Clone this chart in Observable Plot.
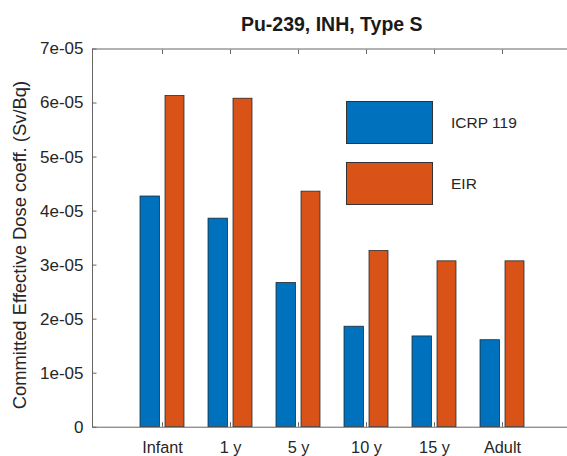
<!DOCTYPE html>
<html><head><meta charset="utf-8">
<script src="https://cdn.jsdelivr.net/npm/d3@7"></script>
<script src="https://cdn.jsdelivr.net/npm/@observablehq/plot@0.6"></script>
<style>
html,body{margin:0;padding:0;background:#fff;overflow:hidden;}
#wrap{position:relative;width:567px;height:456px;overflow:hidden;font-family:"Liberation Sans",Arial,sans-serif;color:#262626;}
#title{height:40px;box-sizing:border-box;padding-top:14.5px;margin-left:92px;width:479.5px;text-align:center;line-height:1;font-size:19.5px;font-weight:bold;color:#1a1a1a;}
#chart{width:572px;height:416px;}
#legend{position:absolute;left:346px;top:101px;}
.item{display:flex;align-items:center;height:43px;margin-bottom:18px;}
.sw{width:87px;height:43px;box-sizing:border-box;border:1px solid #333;}
.lab{margin-left:18px;font-size:15.5px;}
</style></head>
<body>
<div id="wrap">
  <div id="title"></div>
  <div id="chart"></div>
  <div id="legend"></div>
</div>
<script>
const titleText = "Pu-239, INH, Type S";
const yLabel = "Committed Effective Dose coeff. (Sv/Bq)";
const categories = ["Infant", "1 y", "5 y", "10 y", "15 y", "Adult"];
const icrp119 = [4.27e-5, 3.86e-5, 2.67e-5, 1.86e-5, 1.68e-5, 1.61e-5];
const eir = [6.13e-5, 6.08e-5, 4.36e-5, 3.26e-5, 3.07e-5, 3.07e-5];
const seriesNames = ["ICRP 119", "EIR"];
const seriesColors = ["#0072BD", "#D95319"];
const yTicks = [0, 1e-5, 2e-5, 3e-5, 4e-5, 5e-5, 6e-5, 7e-5];
const yTickLabels = ["0", "1e-05", "2e-05", "3e-05", "4e-05", "5e-05", "6e-05", "7e-05"];

document.getElementById("title").textContent = titleText;

const rowsA = categories.map((c, i) => ({cat: c, v: icrp119[i]}));
const rowsB = categories.map((c, i) => ({cat: c, v: eir[i]}));
const axisColor = "#666";
const tk = 4.5;

const chart = Plot.plot({
  width: 572,
  height: 416,
  marginTop: 8.5,
  marginBottom: 29.3,
  marginLeft: 92,
  marginRight: 0.5,
  style: {fontFamily: "'Liberation Sans', Arial, sans-serif", fontSize: "16.3px", color: "#262626", background: "white"},
  x: {type: "band", domain: categories, paddingInner: 0, paddingOuter: 0.5, align: 0.5},
  y: {domain: [0, 7e-5]},
  marks: [
    Plot.barY(rowsA, {x: "cat", y: "v", fill: seriesColors[0], stroke: "#222", strokeWidth: 0.75, insetLeft: 12, insetRight: 36.5}),
    Plot.barY(rowsB, {x: "cat", y: "v", fill: seriesColors[1], stroke: "#222", strokeWidth: 0.75, insetLeft: 37, insetRight: 12}),
    Plot.frame({stroke: axisColor, strokeWidth: 1}),
    Plot.axisX({anchor: "bottom", tickSize: tk, dy: -tk, fill: "none", stroke: axisColor}),
    Plot.axisX({anchor: "top", tickSize: tk, dy: tk, fill: "none", stroke: axisColor}),
    Plot.axisX({anchor: "bottom", tickSize: 0, tickPadding: 14, label: null, fill: "#262626"}),
    Plot.axisY({anchor: "left", ticks: yTicks, tickSize: tk, dx: tk, fill: "none", stroke: axisColor}),
    Plot.axisY({anchor: "right", ticks: yTicks, tickSize: tk, dx: -tk, fill: "none", stroke: axisColor}),
    Plot.axisY({anchor: "left", ticks: yTicks, tickSize: 0, tickPadding: 9, label: null, fill: "#262626", fontSize: 17,
      tickFormat: d => yTickLabels[yTicks.indexOf(d)]}),
    Plot.text([yLabel], {frameAnchor: "left", dx: -80, dy: 7, rotate: -90, lineAnchor: "top", textAnchor: "middle", fontSize: 18.4, fill: "#262626"})
  ]
});
document.getElementById("chart").appendChild(chart);

const legend = document.getElementById("legend");
seriesNames.forEach((n, i) => {
  const it = document.createElement("div");
  it.className = "item";
  const sw = document.createElement("div");
  sw.className = "sw";
  sw.style.background = seriesColors[i];
  const lb = document.createElement("div");
  lb.className = "lab";
  lb.textContent = n;
  it.appendChild(sw); it.appendChild(lb);
  legend.appendChild(it);
});
</script>
</body></html>
